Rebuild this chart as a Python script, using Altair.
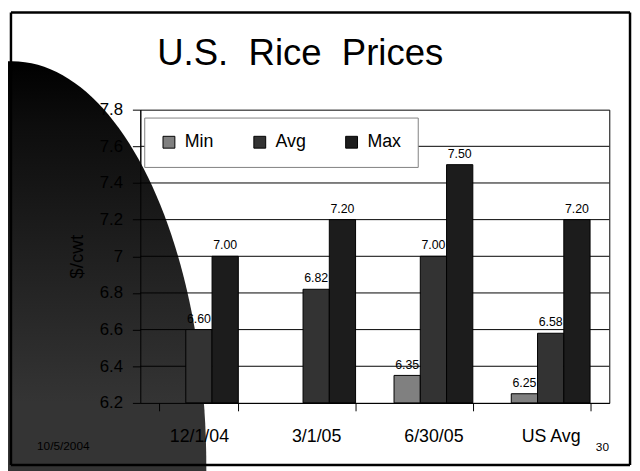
import altair as alt
import pandas as pd

categories = ["12/1/04", "3/1/05", "6/30/05", "US Avg"]
series = ["Min", "Avg", "Max"]
min_vals = [None, None, 6.35, 6.25]
avg_vals = [6.60, 6.82, 7.00, 6.58]
max_vals = [7.00, 7.20, 7.50, 7.20]
y_ticks = [6.2, 6.4, 6.6, 6.8, 7.0, 7.2, 7.4, 7.6, 7.8]
colors = ["#808080", "#333333", "#1c1c1c"]
title_text = "U.S.\u00a0 Rice\u00a0 Prices"
date_text = "10/5/2004"
page_text = "30"

rows = []
for s, vals in zip(series, [min_vals, avg_vals, max_vals]):
    for c, v in zip(categories, vals):
        if v is not None:
            rows.append({"date": c, "series": s, "price": v})
df = pd.DataFrame(rows)
grid_df = pd.DataFrame({"price": y_ticks[1:-1]})
one = pd.DataFrame({"k": [0]})

FONT = "Liberation Sans Narrow, Arial Narrow, Liberation Sans, Arial, sans-serif"
REG = "Liberation Sans, Arial, sans-serif"

x_enc = alt.X(
    "date:N",
    sort=categories,
    scale=alt.Scale(paddingInner=0.328, paddingOuter=0.164),
    axis=alt.Axis(
        title=None, labelAngle=0, tickBand="extent", tickSize=8, labelPadding=17,
        labelFont=FONT, labelFontSize=18, labelColor="black",
        domainColor="black", tickColor="black", grid=False, zindex=1,
    ),
)
y_scale = alt.Scale(domain=[6.2, 7.8], zero=False, nice=False)
y_axis = alt.Axis(
    values=y_ticks, format="~g", title="$/cwt", grid=False, zindex=1,
    tickSize=8, labelPadding=10, labelFont=FONT, labelFontSize=17,
    labelColor="black", domainColor="black", tickColor="black",
    titleFont=FONT, titleFontSize=19, titleFontWeight="normal",
    titleColor="black", titlePadding=13,
)
xoff = alt.XOffset("series:N", scale=alt.Scale(domain=series, paddingInner=0))

gradient = alt.Gradient(
    gradient="linear",
    stops=[
        alt.GradientStop(color="#000000", offset=0),
        alt.GradientStop(color="#0d0d0d", offset=0.08),
        alt.GradientStop(color="#343434", offset=0.42),
        alt.GradientStop(color="#343434", offset=1),
    ],
    x1=0, x2=0, y1=0, y2=1,
)
ellipse_path = "M -0.479 0 A 0.479 1 0 1 0 0.479 0 A 0.479 1 0 1 0 -0.479 0 Z"
ellipse = alt.Chart(one).mark_point(
    shape=ellipse_path, size=822 * 822, filled=True, fill=gradient,
    strokeWidth=0, opacity=1,
).encode(x=alt.value(-130), y=alt.value(362))

grid = alt.Chart(grid_df).mark_rule(color="black", strokeWidth=1).encode(
    y=alt.Y("price:Q", scale=y_scale, axis=y_axis)
)

bars = alt.Chart(df).mark_bar(stroke="black", strokeWidth=1).encode(
    x=x_enc,
    xOffset=xoff,
    y=alt.Y("price:Q", scale=y_scale, axis=y_axis),
    y2=alt.datum(6.2),
    color=alt.Color(
        "series:N",
        scale=alt.Scale(domain=series, range=colors),
        legend=alt.Legend(
            title=None, orient="none", legendX=4, legendY=8, direction="horizontal",
            symbolType="square", symbolSize=144, symbolStrokeColor="black",
            symbolStrokeWidth=1, symbolOpacity=1, labelFont=FONT, labelFontSize=18,
            labelColor="black", labelOffset=7, columnPadding=37, padding=16,
            fillColor="white", strokeColor="#808080",
        ),
    ),
)

labels = alt.Chart(df).mark_text(
    font=REG, fontSize=12.5, color="black", baseline="bottom", dy=-4
).encode(
    x=x_enc,
    xOffset=xoff,
    y=alt.Y("price:Q", scale=y_scale, axis=y_axis),
    text=alt.Text("price:Q", format=".2f"),
)

title = alt.Chart(one).mark_text(
    text=title_text, font=FONT, fontSize=37, align="center",
    baseline="alphabetic", color="black",
).encode(x=alt.value(162), y=alt.value(-45))

date_lbl = alt.Chart(one).mark_text(
    text=date_text, font=REG, fontSize=12, align="center",
    baseline="alphabetic", color="black",
).encode(x=alt.value(-78), y=alt.value(345))

page_lbl = alt.Chart(one).mark_text(
    text=page_text, font=REG, fontSize=12, align="center",
    baseline="alphabetic", color="black",
).encode(x=alt.value(468), y=alt.value(346))

FL, FR, FT, FB = -131, 496, -98.5, 360
frame_style = dict(color="black", strokeWidth=2.5)
frame_top = alt.Chart(one).mark_rule(**frame_style).encode(
    x=alt.value(FL), x2=alt.value(FR), y=alt.value(FT))
frame_bottom = alt.Chart(one).mark_rule(**frame_style).encode(
    x=alt.value(FL), x2=alt.value(FR), y=alt.value(FB))
frame_left = alt.Chart(one).mark_rule(**frame_style).encode(
    x=alt.value(FL), y=alt.value(FT), y2=alt.value(FB))
frame_right = alt.Chart(one).mark_rule(**frame_style).encode(
    x=alt.value(FR), y=alt.value(FT), y2=alt.value(FB))

chart = alt.layer(
    ellipse, grid, bars, labels, title, date_lbl, page_lbl,
    frame_top, frame_bottom, frame_left, frame_right,
).properties(
    width=475, height=297,
    autosize=alt.AutoSizeParams(type="none"),
    padding={"left": 134, "top": 100, "right": 23, "bottom": 66},
    background="white",
).configure_view(stroke="black", strokeWidth=1)

chart.save("out.html", embed_options={"renderer": "svg", "actions": False})
